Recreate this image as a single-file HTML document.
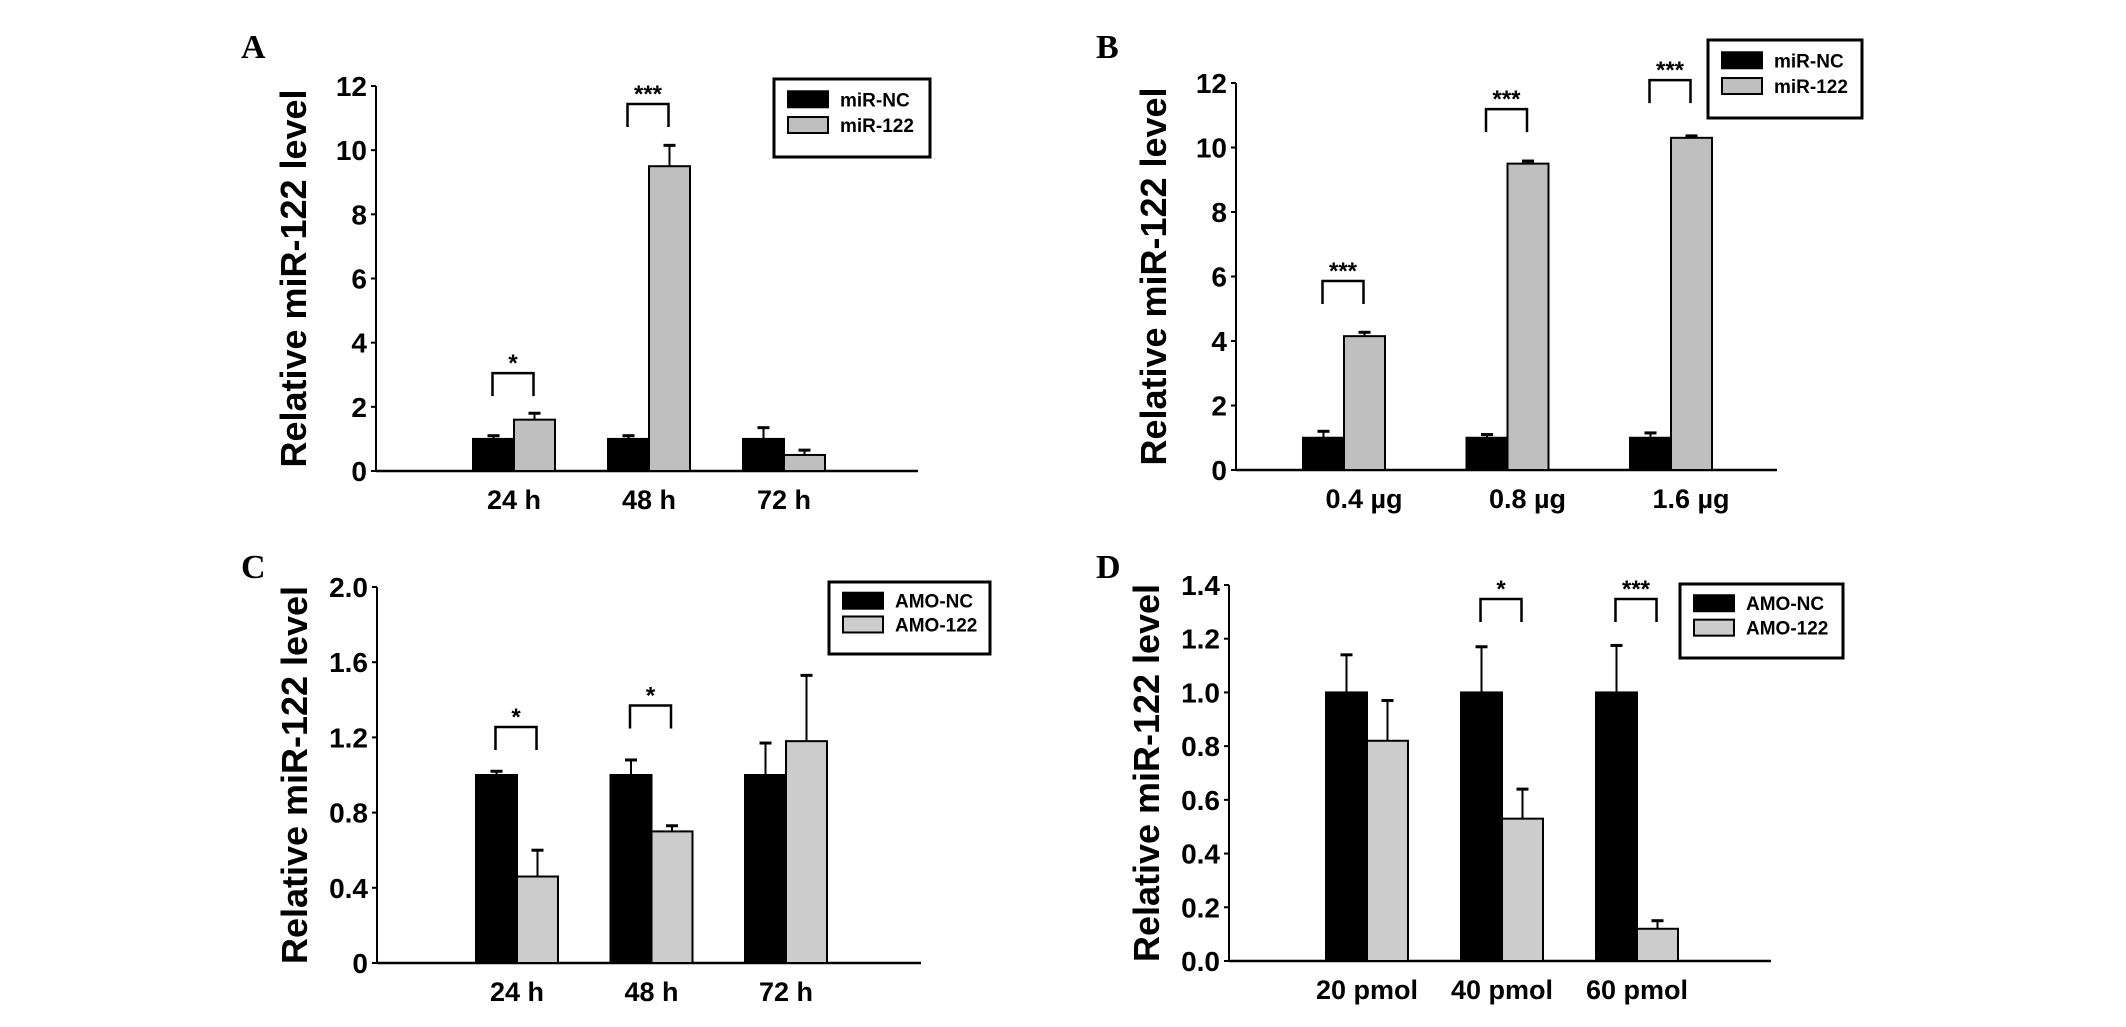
<!DOCTYPE html>
<html><head><meta charset="utf-8">
<style>
html,body{margin:0;padding:0;background:#fff;}
svg{display:block;}
text{font-family:"Liberation Sans Narrow","Liberation Sans",Arial,sans-serif;font-weight:bold;fill:#000;}
.ttl{font-family:"Liberation Sans",Arial,sans-serif;}
.pl{font-family:"Liberation Serif",serif;}
</style></head>
<body>
<svg id="fig" width="2126" height="1027" viewBox="0 0 2126 1027" xmlns="http://www.w3.org/2000/svg"></svg>
<script>
// Panel A
const catsA = ["24 h","48 h","72 h"];
const ncA = [1.0, 1.0, 1.0];
const ncErrA = [0.1, 0.1, 0.35];
const trA = [1.6, 9.5, 0.5];
const trErrA = [0.2, 0.65, 0.15];
const ticksA = ["0","2","4","6","8","10","12"];
const sigA = ["*","***",""];
const brA = [3.05, 11.44, null];
// Panel B
const catsB = ["0.4 \u00b5g","0.8 \u00b5g","1.6 \u00b5g"];
const ncB = [1.0, 1.0, 1.0];
const ncErrB = [0.2, 0.1, 0.15];
const trB = [4.15, 9.5, 10.3];
const trErrB = [0.12, 0.08, 0.06];
const ticksB = ["0","2","4","6","8","10","12"];
const sigB = ["***","***","***"];
const brB = [5.86, 11.19, 12.09];
// Panel C
const catsC = ["24 h","48 h","72 h"];
const ncC = [1.0, 1.0, 1.0];
const ncErrC = [0.02, 0.08, 0.17];
const trC = [0.46, 0.70, 1.18];
const trErrC = [0.14, 0.03, 0.35];
const ticksC = ["0","0.4","0.8","1.2","1.6","2.0"];
const sigC = ["*","*",""];
const brC = [1.255, 1.37, null];
// Panel D
const catsD = ["20 pmol","40 pmol","60 pmol"];
const ncD = [1.0, 1.0, 1.0];
const ncErrD = [0.14, 0.17, 0.175];
const trD = [0.82, 0.53, 0.12];
const trErrD = [0.15, 0.11, 0.03];
const ticksD = ["0.0","0.2","0.4","0.6","0.8","1.0","1.2","1.4"];
const sigD = ["","*","***"];
const brD = [null, 1.348, 1.348];

const NS="http://www.w3.org/2000/svg";
const svg=document.getElementById('fig');
function mk(tag,attrs,parent){const e=document.createElementNS(NS,tag);for(const k in attrs)e.setAttribute(k,attrs[k]);(parent||svg).appendChild(e);return e;}

function panel(p){
  const g=mk('g',{});
  
  
  const ymax=parseFloat(p.ticks[p.ticks.length-1]);
  const y=v=>p.y0-(v/ymax)*(p.y0-p.ytop);
  const lbl=mk('text',{x:p.lx,y:p.ly,'font-size':34,class:'pl'},g);lbl.textContent=p.id;
  
  
  // y axis title
  const t=mk('text',{x:0,y:0,'font-size':36,class:'ttl','text-anchor':'middle',transform:`translate(${p.ax-70},${(p.y0+p.ytop)/2}) rotate(-90)`,textLength:378,lengthAdjust:'spacingAndGlyphs'},g);
  t.textContent='Relative miR-122 level';
  
  
  // axes
  const ya=mk('line',{x1:p.ax,y1:p.ytop,x2:p.ax,y2:p.y0,stroke:'#000','stroke-width':2},g);
  
  
  const xa=mk('line',{x1:p.ax,y1:p.y0,x2:p.axEnd,y2:p.y0,stroke:'#000','stroke-width':2.5},g);
  
  
  p.ticks.forEach(tk=>{
    const v=parseFloat(tk);
    mk('line',{x1:p.ax-5,y1:y(v),x2:p.ax,y2:y(v),stroke:'#000','stroke-width':2},g);
    const tt=mk('text',{x:p.ax-9,y:y(v)+10,'font-size':28,'text-anchor':'end'},g);tt.textContent=tk;
    
    
  });
  const bw=41;
  p.cats.forEach((c,i)=>{
    const cx=p.c0+i*p.sp;
    const bars=[[p.nc[i],p.ncE[i],cx-bw,'#000'],[p.tr[i],p.trE[i],cx,p.gray]];
    bars.forEach((b,j)=>{
      const r=mk('rect',{x:b[2],y:y(b[0]),width:bw,height:p.y0-y(b[0]),fill:b[3],stroke:'#000','stroke-width':2},g);
      
      
      const ex=b[2]+bw/2;
      mk('line',{x1:ex,y1:y(b[0]),x2:ex,y2:y(b[0]+b[1]),stroke:'#000','stroke-width':2},g);
      mk('line',{x1:ex-6,y1:y(b[0]+b[1]),x2:ex+6,y2:y(b[0]+b[1]),stroke:'#000','stroke-width':3},g);
    });
    const xl=mk('text',{x:cx+(p.xoff||0),y:p.y0+38,'font-size':27,'text-anchor':'middle'},g);xl.textContent=c;
    
    
    if(p.br[i]!=null){
      const by=y(p.br[i]);
      const x1=cx-bw/2-1,x2=cx+bw/2-1;
      const br=mk('path',{d:`M${x1},${by+23} V${by} H${x2} V${by+23}`,fill:'none',stroke:'#000','stroke-width':2.5},g);
      
      
      const st=mk('text',{x:(x1+x2)/2,y:by-2,'font-size':24,'text-anchor':'middle'},g);st.textContent=p.sig[i];
      
      
    }
  });
  // legend
  const L=p.leg;
  const lg=mk('g',{},g);
  
  
  mk('rect',{x:L[0],y:L[1],width:L[2],height:L[3],fill:'#fff',stroke:'#000','stroke-width':3},lg);
  [[p.names[0],'#000'],[p.names[1],p.gray]].forEach((n,k)=>{
    const sy=L[1]+L[3]*0.26+k*L[3]*0.33;
    mk('rect',{x:L[0]+14,y:sy-8,width:40,height:16,fill:n[1],stroke:'#000','stroke-width':2},lg);
    const tx=mk('text',{x:L[0]+66,y:sy+7,'font-size':19},lg);tx.textContent=n[0];
    
    
  });
}

panel({id:'A',lx:241,ly:58,ax:376,axEnd:918,y0:471,ytop:86,c0:514,sp:135,cats:catsA,nc:ncA,ncE:ncErrA,tr:trA,trE:trErrA,ticks:ticksA,sig:sigA,br:brA,gray:'#bfbfbf',leg:[774,79,156,78],names:['miR-NC','miR-122']});
panel({id:'B',lx:1096,ly:58,ax:1236,axEnd:1777,y0:470,ytop:83,c0:1344,sp:163.5,xoff:20,cats:catsB,nc:ncB,ncE:ncErrB,tr:trB,trE:trErrB,ticks:ticksB,sig:sigB,br:brB,gray:'#bfbfbf',leg:[1708,40,154,78],names:['miR-NC','miR-122']});
panel({id:'C',lx:241,ly:578,ax:377,axEnd:921,y0:963,ytop:587,c0:517,sp:134.5,cats:catsC,nc:ncC,ncE:ncErrC,tr:trC,trE:trErrC,ticks:ticksC,sig:sigC,br:brC,gray:'#cccccc',leg:[829,582,161,72],names:['AMO-NC','AMO-122']});
panel({id:'D',lx:1096,ly:578,ax:1229,axEnd:1771,y0:961,ytop:585,c0:1367,sp:135,cats:catsD,nc:ncD,ncE:ncErrD,tr:trD,trE:trErrD,ticks:ticksD,sig:sigD,br:brD,gray:'#cccccc',leg:[1680,584,163,74],names:['AMO-NC','AMO-122']});
</script>
</body></html>
